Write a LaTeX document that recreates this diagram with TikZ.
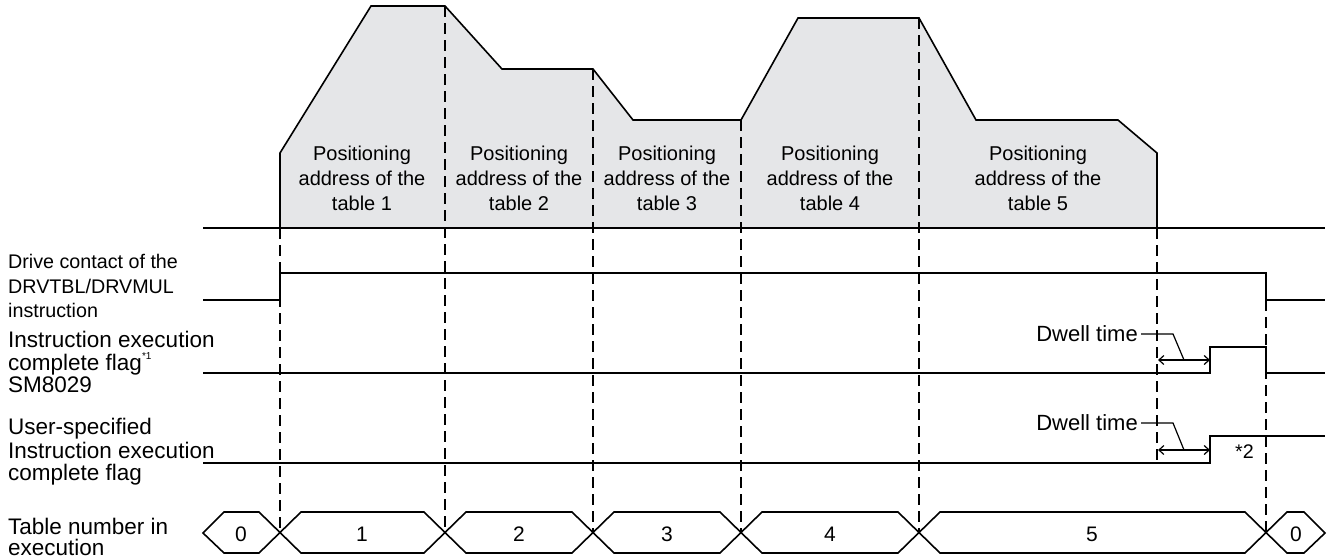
\documentclass[tikz,border=0pt]{standalone}
\usepackage{fontspec}
\setmainfont{Liberation Sans}
\usetikzlibrary{arrows.meta}
\definecolor{profgray}{RGB}{229,230,232}
\begin{document}
\begin{tikzpicture}[x=1pt,y=-1pt,
  wave/.style={line width=1.6pt, line join=miter},
  guide/.style={line width=1.6pt, dash pattern=on 11pt off 6pt},
  thin/.style={line width=1.2pt},
  dwellarrow/.style={line width=1.2pt, {Straight Barb[length=5pt,width=9pt]}-{Straight Barb[length=5pt,width=9pt]}},
  biglbl/.style={font=\fontsize{22.5}{24}\selectfont, anchor=base west, inner sep=0pt},
  smalllbl/.style={font=\fontsize{19.7}{24}\selectfont, anchor=base west, inner sep=0pt},
  poslbl/.style={font=\fontsize{20}{24}\selectfont, anchor=base, inner sep=0pt},
  numlbl/.style={font=\fontsize{21}{24}\selectfont, anchor=base, inner sep=0pt},
  dwelllbl/.style={font=\fontsize{22}{24}\selectfont, anchor=base east, inner sep=0pt},
  hexbox/.style={line width=1.6pt, line join=miter}]
\useasboundingbox (0,0) rectangle (1329,558);

% ---------- speed profile ----------
\fill[profgray] (280,228) -- (280,153) -- (371,6) -- (445,6) -- (502,69) -- (593,69)
  -- (633,120) -- (741,120) -- (798,18) -- (919,18) -- (976,120) -- (1118,120)
  -- (1157,153) -- (1157,228) -- cycle;
\draw[wave] (280,228) -- (280,153) -- (371,6) -- (445,6) -- (502,69) -- (593,69)
  -- (633,120) -- (741,120) -- (798,18) -- (919,18) -- (976,120) -- (1118,120)
  -- (1157,153) -- (1157,228);
\coordinate (base0) at (203,228);
\coordinate (base1) at (1325,228);
\draw[wave] (base0) -- (base1);

\node[poslbl] (p1a) at (362,160) {Positioning};
\node[poslbl] (p1b) at (362,185) {address of the};
\node[poslbl] (p1c) at (362,210) {table 1};
\node[poslbl] (p2a) at (519,160) {Positioning};
\node[poslbl] (p2b) at (519,185) {address of the};
\node[poslbl] (p2c) at (519,210) {table 2};
\node[poslbl] (p3a) at (667,160) {Positioning};
\node[poslbl] (p3b) at (667,185) {address of the};
\node[poslbl] (p3c) at (667,210) {table 3};
\node[poslbl] (p4a) at (830,160) {Positioning};
\node[poslbl] (p4b) at (830,185) {address of the};
\node[poslbl] (p4c) at (830,210) {table 4};
\node[poslbl] (p5a) at (1038,160) {Positioning};
\node[poslbl] (p5b) at (1038,185) {address of the};
\node[poslbl] (p5c) at (1038,210) {table 5};

% ---------- dashed guides ----------
\draw[guide] (280,228) -- (280,533);
\draw[guide] (445,6) -- (445,533);
\draw[guide] (593,69) -- (593,533);
\draw[guide] (741,120) -- (741,533);
\draw[guide] (919,18) -- (919,533);
\draw[guide] (1157,228) -- (1157,463);
\draw[guide] (1266,300) -- (1266,533);

% ---------- signals ----------
\draw[wave] (203,300) -- (280,300) -- (280,273) -- (1266,273) -- (1266,300) -- (1325,300);
\draw[wave] (203,373) -- (1210,373) -- (1210,347) -- (1266,347) -- (1266,373) -- (1325,373);
\draw[wave] (203,463) -- (1210,463) -- (1210,436) -- (1325,436);

% dwell time annotations
\node[dwelllbl] (dw1) at (1138,341) {Dwell time};
\draw[thin] (dw1.east |- 0,334) ++(3,0) -- (1173,334) -- (1184,360);
\draw[dwellarrow] (1158,360) -- (1210,360);
\node[dwelllbl] (dw2) at (1138,430) {Dwell time};
\draw[thin] (dw2.east |- 0,423) ++(3,0) -- (1173,423) -- (1184,450);
\draw[dwellarrow] (1158,450) -- (1210,450);
\node[font=\fontsize{19.7}{24}\selectfont, anchor=base west, inner sep=0pt] (star2) at (1235,458) {*2};

% ---------- left labels ----------
\node[smalllbl] (l1a) at (8,268) {Drive contact of the};
\node[smalllbl] (l1b) at (8,293) {DRVTBL/DRVMUL};
\node[smalllbl] (l1c) at (8,317) {instruction};
\node[biglbl] (l2a) at (8,347) {Instruction execution};
\node[biglbl] (l2b) at (8,370) {complete flag\raisebox{0.45em}{\fontsize{10}{11}\selectfont *1}};
\node[biglbl] (l2c) at (8,392) {SM8029};
\node[biglbl] (l3a) at (8,434) {User-specified};
\node[biglbl] (l3b) at (8,458) {Instruction execution};
\node[biglbl] (l3c) at (8,480) {complete flag};
\node[biglbl] (l4a) at (8,534) {Table number in};
\node[biglbl] (l4b) at (8,555) {execution};

% ---------- table number row ----------
\draw[hexbox] (203,533) -- (224,512) -- (259,512) -- (301,553) -- (424,553) -- (466,512)
  -- (572,512) -- (614,553) -- (720,553) -- (762,512) -- (898,512) -- (940,553)
  -- (1245,553) -- (1287,512) -- (1304,512) -- (1325,533) -- (1304,553) -- (1287,553)
  -- (1245,512) -- (940,512) -- (898,553) -- (762,553) -- (720,512) -- (614,512)
  -- (572,553) -- (466,553) -- (424,512) -- (301,512) -- (259,553) -- (224,553) -- cycle;
\node[numlbl] (n0) at (241,541) {0};
\node[numlbl] (n1) at (362,541) {1};
\node[numlbl] (n2) at (519,541) {2};
\node[numlbl] (n3) at (667,541) {3};
\node[numlbl] (n4) at (830,541) {4};
\node[numlbl] (n5) at (1092,541) {5};
\node[numlbl] (n6) at (1296,541) {0};
\end{tikzpicture}
\end{document}
